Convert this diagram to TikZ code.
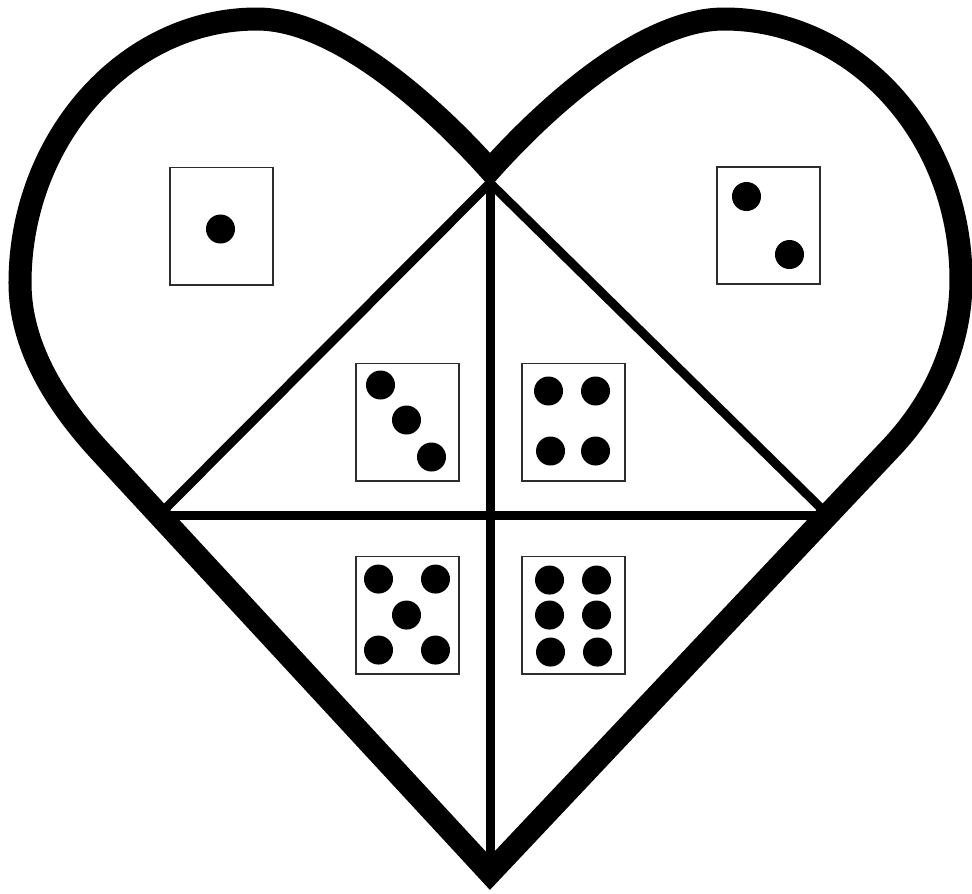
\documentclass[tikz,border=0pt]{standalone}
\usepackage{tikz}
\usetikzlibrary{positioning}
\usepackage{xcolor}
\definecolor{inkblack}{RGB}{0,0,0}
\definecolor{boxgray}{RGB}{45,45,45}
\tikzset{
  heartline/.style={draw=inkblack, line width=0.23cm, line join=miter},
  divider/.style={draw=inkblack, line width=0.09cm},
  die/.style={draw=boxgray, line width=0.55pt, minimum width=1.03cm,
              minimum height=1.17cm, inner sep=0pt},
  pip/.style={fill=inkblack},
}

\begin{document}
\begin{tikzpicture}[x=0.01cm, y=-0.01cm, node distance=0.61cm]
  \useasboundingbox (0,0) rectangle (972,893);

  \coordinate (tip)   at (490,873);
  \coordinate (notch) at (490,170);
  \coordinate (apex)  at (490,183);
  \coordinate (lc)    at (159,515);
  \coordinate (rc)    at (828,515);
  \coordinate (la)    at (99,450);
  \coordinate (lw)    at (20,283);
  \coordinate (lt)    at (257,19);
  \coordinate (rt)    at (724,19);
  \coordinate (rw)    at (961,280);
  \coordinate (ra)    at (889,450);

  \node[die] (d1) at (221.5,226) {};
  \node[die] (d2) at (768.5,225.5) {};
  \node[die] (d3) at (407.5,422) {};
  \node[die, right=of d3] (d4) {};
  \node[die, below=0.74cm of d3] (d5) {};
  \node[die, right=of d5] (d6) {};

  \fill[pip] ([shift={(-1,3)}]d1.center) circle (0.145cm);
  \foreach \dx/\dy in {-22/-29, 21/29}
    \fill[pip] ([shift={(\dx,\dy)}]d2.center) circle (0.145cm);
  \foreach \dx/\dy in {-27/-37, -1/-2, 24/35}
    \fill[pip] ([shift={(\dx,\dy)}]d3.center) circle (0.145cm);
  \foreach \dx/\dy in {-25/-31, 22/-31, -23/29, 22/29}
    \fill[pip] ([shift={(\dx,\dy)}]d4.center) circle (0.145cm);
  \foreach \dx/\dy in {-29/-36, 28/-36, -1/0, -29/35, 28/35}
    \fill[pip] ([shift={(\dx,\dy)}]d5.center) circle (0.145cm);
  \foreach \dx/\dy in {-24/-35, 23/-35, -24/0, 23/0, -23/37, 24/37}
    \fill[pip] ([shift={(\dx,\dy)}]d6.center) circle (0.145cm);

  \draw[divider] (lc) -- (apex) -- (rc);
  \draw[divider] (lc) -- (rc);
  \draw[divider] (apex) -- (tip);

  \draw[heartline] (tip) -- (la)
    .. controls (55,402) and (20,345) .. (lw)
    .. controls (20,140) and (125,19) .. (lt)
    .. controls (340,19) and (440,114) .. (notch)
    .. controls (540,114) and (640,19) .. (rt)
    .. controls (855,19) and (961,135) .. (rw)
    .. controls (961,345) and (934,403) .. (ra)
    -- cycle;
\end{tikzpicture}
\end{document}
